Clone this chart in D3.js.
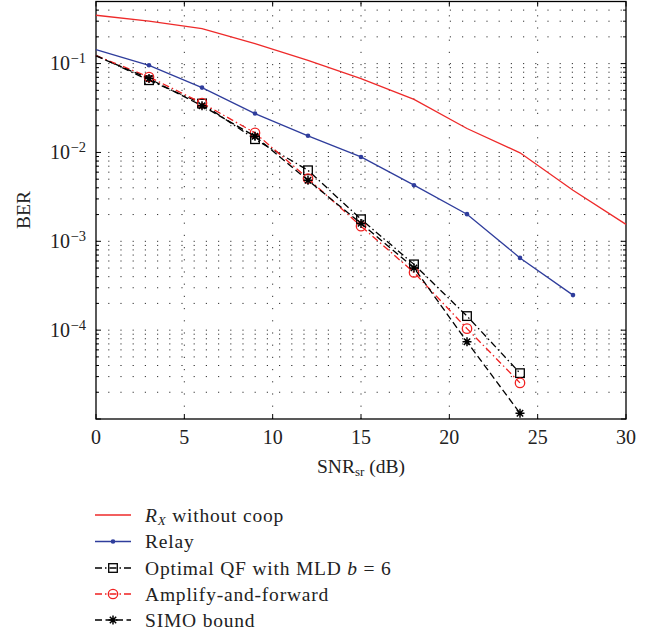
<!DOCTYPE html>
<html>
<head>
<meta charset="utf-8">
<script src="https://cdn.jsdelivr.net/npm/d3@7"></script>
<style>
  html, body { margin: 0; padding: 0; background: #fff; }
  svg { display: block; font-family: "Liberation Serif", "DejaVu Serif", serif; }
</style>
</head>
<body>
<svg id="chart" width="654" height="638"></svg>
<script>
// SNR (dB) sample points
const snr = [0, 3, 6, 9, 12, 15, 18, 21, 24, 27, 30];

// BER curves
const rxNoCoop = [0.35, 0.30, 0.248, 0.168, 0.109, 0.0678, 0.0395, 0.0186, 0.0099, 0.00376, 0.00155];
const relay    = [0.1435, 0.0957, 0.0537, 0.0274, 0.0154, 0.0089, 0.00428, 0.00202, 0.00065, 0.000248];
const optQF    = [0.124, 0.065, 0.0355, 0.0141, 0.0063, 0.00177, 0.00055, 0.000144, 3.28e-5];
const ampFwd   = [0.123, 0.0707, 0.036, 0.0166, 0.00508, 0.00148, 0.000446, 0.000104, 2.55e-5];
const simo     = [0.122, 0.0678, 0.0335, 0.0152, 0.00486, 0.00159, 0.000502, 7.4e-5, 1.16e-5];

// Axis ticks
const xTicks = [0, 5, 10, 15, 20, 25, 30];
const yDecades = [-4, -3, -2, -1];
const yDecadeBase = "10";
const yExponents = ["\u22124", "\u22123", "\u22122", "\u22121"];

const svg = d3.select("#chart");
const plot = { left: 96, right: 626, top: 1.5, bottom: 419 };

const x = d3.scaleLinear().domain([0, 30]).range([plot.left, plot.right]);
const y = d3.scaleLog().domain([1e-5, 0.5]).range([plot.bottom, plot.top]);

const zip = (vals) => vals.map((v, i) => [snr[i], v]);
const line = d3.line().x(d => x(d[0])).y(d => y(d[1]));

// minor log ticks 1..9 x 10^k inside the domain
const yMinor = [];
for (let k = -5; k <= -1; k++) {
  for (let m = 1; m <= 9; m++) {
    const v = m * Math.pow(10, k);
    if (v >= 1e-5 && v <= 0.5 + 1e-12) yMinor.push(v);
  }
}

// dotted grid
const grid = svg.append("g").attr("stroke", "#333").attr("stroke-width", 1)
  .attr("stroke-dasharray", "1.2,11");
grid.selectAll("line.h").data(yMinor.filter(v => v > 1e-5 && v < 0.5)).join("line")
  .attr("x1", plot.left).attr("x2", plot.right)
  .attr("y1", d => y(d)).attr("y2", d => y(d));
grid.selectAll("line.v").data(xTicks.filter(t => t > 0 && t < 30)).join("line")
  .attr("x1", d => x(d)).attr("x2", d => x(d))
  .attr("y1", plot.bottom).attr("y2", plot.top);

// ticks (inside on all four sides)
const ticks = svg.append("g").attr("stroke", "#000").attr("stroke-width", 1);
xTicks.forEach(t => {
  ticks.append("line").attr("x1", x(t)).attr("x2", x(t)).attr("y1", plot.bottom).attr("y2", plot.bottom - 5);
  ticks.append("line").attr("x1", x(t)).attr("x2", x(t)).attr("y1", plot.top).attr("y2", plot.top + 5);
});
yMinor.forEach(v => {
  const major = Math.abs(Math.log10(v) - Math.round(Math.log10(v))) < 1e-9;
  const len = major ? 5 : 3;
  ticks.append("line").attr("x1", plot.left).attr("x2", plot.left + len).attr("y1", y(v)).attr("y2", y(v));
  ticks.append("line").attr("x1", plot.right).attr("x2", plot.right - len).attr("y1", y(v)).attr("y2", y(v));
});

// box
svg.append("rect")
  .attr("x", plot.left).attr("y", plot.top)
  .attr("width", plot.right - plot.left).attr("height", plot.bottom - plot.top)
  .attr("fill", "none").attr("stroke", "#000").attr("stroke-width", 1.3);

// x tick labels
svg.append("g").selectAll("text").data(xTicks).join("text")
  .attr("x", d => x(d)).attr("y", 444)
  .attr("text-anchor", "middle").attr("font-size", 20).attr("fill", "#222")
  .text(d => d);

// y tick labels 10^k
const yl = svg.append("g").attr("fill", "#222");
yDecades.forEach((k, i) => {
  const ty = y(Math.pow(10, k));
  yl.append("text").attr("x", 70).attr("y", ty + 6.8)
    .attr("text-anchor", "end").attr("font-size", 20).text(yDecadeBase);
  yl.append("text").attr("x", 70.5).attr("y", ty - 0.5)
    .attr("text-anchor", "start").attr("font-size", 14.5).text(yExponents[i]);
});

// axis titles
const xl = svg.append("text").attr("x", (plot.left + plot.right) / 2).attr("y", 473)
  .attr("text-anchor", "middle").attr("font-size", 19.5).attr("fill", "#222");
xl.append("tspan").text("SNR");
xl.append("tspan").attr("font-size", 13).attr("dy", 3).text("sr");
xl.append("tspan").attr("dy", -3).text(" (dB)");

svg.append("text").attr("transform", "translate(30,210) rotate(-90)")
  .attr("text-anchor", "middle").attr("font-size", 19.5).attr("fill", "#222").text("BER");

// series styles
const series = [
  { vals: rxNoCoop, color: "#ee2a2a", dash: null, marker: null },
  { vals: relay, color: "#2f3d9c", dash: null, marker: "dot" },
  { vals: optQF, color: "#000", dash: "7,3,1.5,3", marker: "square" },
  { vals: ampFwd, color: "#f02020", dash: "7,3,1.5,3", marker: "circle" },
  { vals: simo, color: "#000", dash: "7,3.5", marker: "star" }
];

function drawMarker(g, type, cx, cy, color) {
  if (type === "dot") {
    g.append("circle").attr("cx", cx).attr("cy", cy).attr("r", 2.3).attr("fill", color);
  } else if (type === "square") {
    g.append("rect").attr("x", cx - 4.3).attr("y", cy - 4.3).attr("width", 8.6).attr("height", 8.6)
      .attr("fill", "none").attr("stroke", color).attr("stroke-width", 1.3);
  } else if (type === "circle") {
    g.append("circle").attr("cx", cx).attr("cy", cy).attr("r", 4.7)
      .attr("fill", "none").attr("stroke", color).attr("stroke-width", 1.3);
  } else if (type === "star") {
    const r = 4.5, d = r * Math.SQRT1_2;
    g.append("path")
      .attr("d", `M${cx - r},${cy}H${cx + r}M${cx},${cy - r}V${cy + r}` +
                 `M${cx - d},${cy - d}L${cx + d},${cy + d}M${cx - d},${cy + d}L${cx + d},${cy - d}`)
      .attr("stroke", color).attr("stroke-width", 1.5).attr("fill", "none");
  }
}

const marks = svg.append("g");
series.forEach(s => {
  const pts = zip(s.vals);
  marks.append("path").attr("d", line(pts))
    .attr("fill", "none").attr("stroke", s.color).attr("stroke-width", 1.3)
    .attr("stroke-dasharray", s.dash);
  if (s.marker) {
    // markers start at the first simulated point after 0 dB
    const mg = marks.append("g");
    pts.filter(p => p[0] > 0).forEach(p => drawMarker(mg, s.marker, x(p[0]), y(p[1]), s.color));
  }
});

// legend
const legendRows = [515, 541.5, 568, 594, 620];
const leg = svg.append("g");
series.forEach((s, i) => {
  const cy = legendRows[i];
  leg.append("line").attr("x1", 95).attr("x2", 131).attr("y1", cy).attr("y2", cy)
    .attr("stroke", s.color).attr("stroke-width", 1.3).attr("stroke-dasharray", s.dash);
  if (s.marker) drawMarker(leg, s.marker, 113, cy, s.color);
});
const lt = (i) => leg.append("text").attr("x", 145).attr("y", legendRows[i] + 6.5)
  .attr("font-size", 19.5).attr("letter-spacing", 0.8).attr("fill", "#222");
const t0 = lt(0);
t0.append("tspan").attr("font-style", "italic").text("R");
t0.append("tspan").attr("font-style", "italic").attr("font-size", 13).attr("dy", 3).text("X");
t0.append("tspan").attr("dy", -3).text(" without coop");
lt(1).text("Relay");
const t2 = lt(2);
t2.append("tspan").text("Optimal QF with MLD ");
t2.append("tspan").attr("font-style", "italic").text("b");
t2.append("tspan").text(" = 6");
lt(3).text("Amplify-and-forward");
lt(4).text("SIMO bound");
</script>
</body>
</html>
